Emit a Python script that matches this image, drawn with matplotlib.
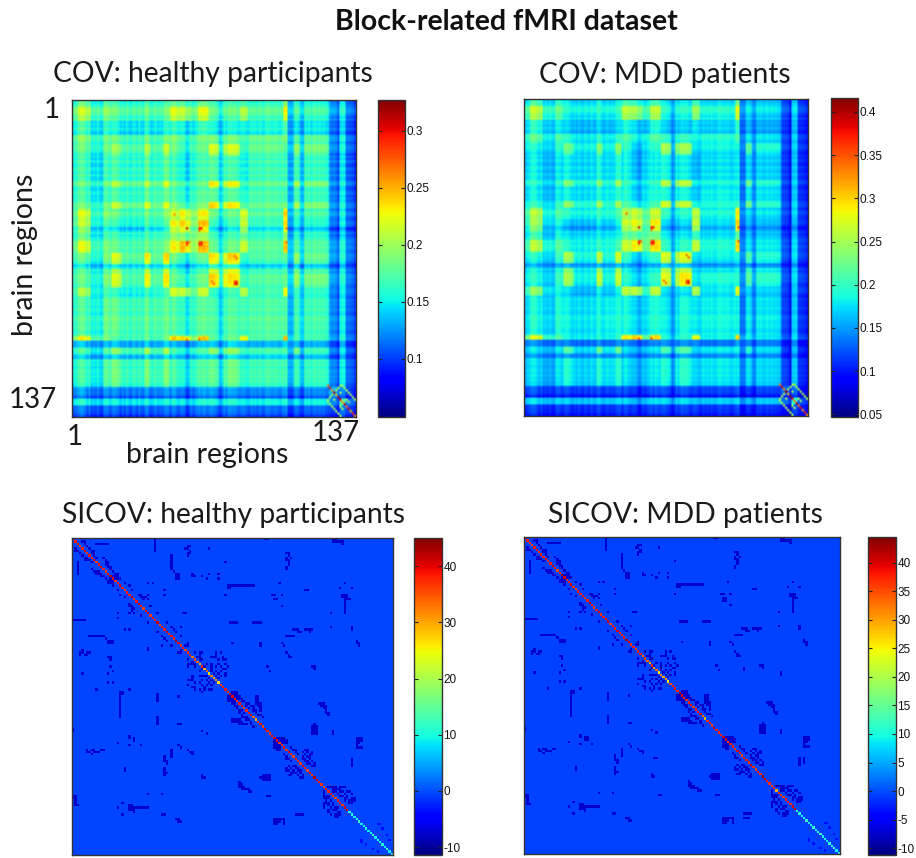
import numpy as np
import matplotlib
matplotlib.use('Agg')
import matplotlib.pyplot as plt

W, H = 916, 858
TITLE_FONT = ['Lato', 'DejaVu Sans']
TICK_FONT = ['Liberation Sans', 'DejaVu Sans']

# number of brain regions in each group of regions
group_sizes = [3, 6, 6, 4, 5, 11, 3, 6, 3, 5, 5, 4, 5, 5, 2, 2, 6, 4, 17, 2, 3, 3, 2, 12, 5, 3, 5]

# group-by-group covariance x 1000, upper triangle, healthy participants
cov_hc_groups = [
    [170, 185, 165, 180, 175, 170, 175, 170, 175, 185, 180, 170, 185, 170, 155, 170, 170, 175, 170, 195, 145, 165, 150, 165, 135, 155, 122],
    [205, 175, 190, 180, 175, 180, 175, 180, 215, 205, 185, 215, 175, 155, 175, 175, 200, 175, 220, 145, 170, 150, 170, 135, 155, 122],
    [160, 170, 165, 160, 165, 160, 165, 170, 160, 160, 170, 160, 145, 160, 160, 160, 165, 175, 140, 155, 140, 160, 130, 150, 118],
    [185, 185, 175, 185, 175, 185, 190, 170, 175, 185, 185, 155, 180, 185, 170, 185, 185, 145, 175, 150, 180, 135, 155, 122],
    [200, 180, 205, 180, 210, 185, 165, 175, 180, 215, 160, 205, 215, 165, 185, 170, 150, 195, 155, 190, 135, 155, 122],
    [175, 185, 175, 185, 175, 160, 170, 175, 180, 155, 175, 175, 160, 178, 170, 145, 175, 150, 175, 135, 155, 122],
    [205, 185, 215, 185, 170, 175, 180, 225, 160, 210, 222, 165, 182, 175, 150, 200, 155, 190, 135, 155, 122],
    [180, 185, 180, 165, 175, 180, 180, 155, 175, 178, 165, 180, 170, 145, 175, 150, 175, 135, 155, 122],
    [215, 190, 170, 175, 185, 230, 160, 215, 225, 170, 182, 180, 150, 200, 155, 190, 135, 155, 122],
    [215, 225, 200, 225, 180, 155, 175, 178, 215, 178, 235, 145, 170, 150, 175, 135, 155, 122],
    [235, 195, 240, 160, 140, 155, 162, 210, 165, 230, 135, 155, 140, 160, 125, 150, 118],
    [195, 200, 170, 150, 165, 170, 185, 172, 195, 140, 165, 145, 170, 130, 150, 122],
    [240, 175, 150, 170, 178, 210, 178, 235, 145, 170, 150, 175, 135, 155, 122],
    [225, 165, 215, 230, 160, 172, 170, 145, 190, 150, 180, 135, 155, 122],
    [155, 165, 165, 145, 150, 150, 130, 150, 125, 150, 120, 140, 115],
    [210, 222, 160, 172, 170, 145, 185, 150, 178, 135, 155, 122],
    [225, 165, 175, 175, 150, 192, 155, 185, 135, 155, 122],
    [205, 172, 222, 145, 165, 145, 165, 130, 150, 122],
    [180, 172, 145, 172, 155, 175, 135, 155, 122],
    [240, 150, 170, 150, 168, 135, 155, 122],
    [140, 145, 130, 145, 120, 140, 110],
    [185, 145, 170, 130, 150, 118],
    [130, 150, 120, 140, 115],
    [172, 135, 155, 122],
    [150, 130, 115],
    [170, 122],
    [115],
]

# same table for the MDD patients
cov_mdd_groups = [
    [190, 215, 185, 205, 190, 185, 195, 185, 190, 215, 205, 190, 210, 185, 165, 185, 185, 210, 185, 230, 155, 175, 160, 178, 140, 170, 125],
    [255, 200, 220, 190, 190, 195, 190, 195, 255, 245, 210, 255, 190, 165, 190, 190, 240, 195, 270, 155, 180, 160, 180, 140, 170, 125],
    [180, 190, 180, 175, 180, 175, 180, 195, 180, 175, 195, 175, 155, 175, 175, 185, 182, 200, 145, 170, 150, 168, 135, 165, 120],
    [215, 200, 190, 200, 190, 200, 215, 190, 195, 215, 200, 165, 195, 200, 190, 200, 210, 155, 185, 160, 185, 140, 170, 125],
    [230, 195, 235, 195, 240, 200, 170, 185, 195, 250, 170, 240, 250, 180, 192, 185, 155, 220, 165, 200, 140, 170, 125],
    [190, 200, 190, 200, 195, 170, 185, 190, 195, 165, 190, 190, 170, 190, 185, 150, 185, 160, 185, 140, 170, 125],
    [235, 200, 245, 205, 180, 190, 200, 255, 170, 245, 258, 185, 195, 190, 155, 225, 165, 200, 140, 170, 125],
    [195, 200, 200, 175, 190, 195, 195, 165, 190, 192, 175, 195, 185, 150, 190, 160, 190, 140, 170, 125],
    [245, 210, 185, 190, 205, 265, 170, 250, 260, 185, 195, 195, 155, 225, 165, 200, 140, 170, 125],
    [255, 265, 225, 265, 200, 165, 190, 195, 260, 195, 285, 155, 180, 160, 185, 140, 170, 125],
    [280, 225, 285, 170, 150, 165, 172, 260, 178, 295, 140, 165, 145, 168, 130, 155, 120],
    [225, 230, 185, 160, 180, 182, 205, 185, 220, 145, 175, 150, 178, 135, 165, 125],
    [290, 195, 160, 185, 195, 260, 195, 290, 150, 180, 155, 185, 140, 170, 125],
    [265, 175, 255, 270, 175, 185, 185, 155, 210, 160, 195, 140, 170, 125],
    [165, 175, 175, 155, 160, 160, 145, 160, 135, 160, 125, 150, 115],
    [245, 260, 175, 185, 185, 150, 205, 160, 190, 140, 170, 125],
    [285, 178, 195, 190, 155, 215, 165, 200, 140, 170, 125],
    [255, 185, 275, 155, 175, 150, 178, 135, 165, 125],
    [195, 185, 150, 188, 160, 190, 140, 170, 125],
    [290, 160, 185, 160, 180, 140, 170, 125],
    [145, 155, 135, 155, 125, 150, 110],
    [200, 155, 185, 135, 165, 120],
    [140, 160, 125, 150, 115],
    [185, 140, 170, 125],
    [160, 145, 115],
    [185, 125],
    [118],
]

# fine stripes of each single region x 1000
cov_hc_stripes = [
    -5, 0, 5, 10, 15, 12, 5, -5, 5, -5,
    0, -5, 5, -5, -10, 5, 8, 5, -5, 5,
    8, 5, 0, -10, 0, -8, 5, -5, -10, 3,
    0, -8, 5, -5, -5, 8, 10, -5, -8, 0,
    5, -5, 0, -3, 5, 10, 8, -5, 8, 10,
    0, -5, 8, 10, 3, -15, -5, 5, -5, 3,
    8, 10, 5, 12, 8, 3, 10, 12, 8, 5,
    -3, -5, 5, 8, 0, 10, 12, 8, 10, 5,
    0, 5, 8, 5, 0, -5, 5, 0, 3, -3,
    5, 0, -5, 5, 8, 5, 0, 3, 5, 0,
    -3, 5, 8, 10, -3, -5, -3, 5, 8, 0,
    -4, -6, 5, 0, 5, -5, 3, 5, 0, 5,
    0, 3, -3, -5, 0, -5, -3, -8, -20, 3,
    8, 5, 0, 0, -2, -5, -15,
]
cov_mdd_stripes = [
    -8, 0, 5, 12, 15, 12, 3, -5, 5, -3,
    3, -5, 5, -3, -8, 5, 8, 3, -5, 3,
    8, 5, -3, -10, 0, -8, 3, -5, -10, 3,
    -3, -8, 5, -3, -5, 8, 8, -5, -8, 0,
    3, -5, 0, -3, 5, 10, 8, -5, 8, 10,
    0, -3, 8, 10, 3, -12, -5, 3, -5, 3,
    8, 10, 3, 12, 8, 3, 10, 12, 8, 3,
    -3, -5, 3, 8, 0, 8, 12, 8, 10, 3,
    -3, 5, 8, 5, -3, -8, 3, -3, 0, -3,
    3, -3, -5, 3, 8, 3, 0, 3, 3, -3,
    -5, 3, 8, 12, -3, -5, -3, 3, 5, -3,
    -4, -6, 3, 0, 3, -5, 0, 3, -3, 3,
    -3, 0, -5, -5, -5, -10, -10, -15, -35, 5,
    10, 10, 0, 0, -3, -5, -15,
]
cov_hc_level = -10
cov_mdd_level = -12

# the few hottest cells of the covariance maps
hot_a = [56, 56, 56, 62, 62, 63, 57, 50, 79, 79, 80, 68, 69, 56, 62]
hot_b = [56, 62, 63, 62, 63, 63, 62, 50, 79, 80, 80, 79, 80, 104, 104]
hot_hc = [0.30, 0.29, 0.29, 0.28, 0.29, 0.29, 0.27, 0.26, 0.28, 0.29, 0.31, 0.27, 0.27, 0.27, 0.27]
hot_mdd = [0.39, 0.37, 0.37, 0.36, 0.37, 0.37, 0.34, 0.34, 0.35, 0.36, 0.38, 0.34, 0.34, 0.35, 0.35]

# bottom right corner of the covariance maps: diagonal values and thin lines around it
corner_regions = [124, 125, 126, 127, 128, 129, 130, 131, 132, 133, 134, 135, 136, 137]
corner_hc = [0.27, 0.30, 0.26, 0.31, 0.24, 0.32, 0.30, 0.26, 0.31, 0.27, 0.30, 0.25, 0.29, 0.26]
corner_mdd = [0.34, 0.39, 0.33, 0.40, 0.30, 0.41, 0.38, 0.33, 0.39, 0.34, 0.38, 0.32, 0.37, 0.33]
corner_link_a = [124, 125, 126, 127, 128, 129, 130, 124, 125, 126, 127, 130, 131]
corner_link_b = [131, 132, 133, 134, 135, 136, 137, 130, 129, 128, 130, 133, 134]
corner_link_hc = 0.20
corner_link_mdd = 0.25

# off-diagonal SICOV entries, {region: partner regions above the diagonal}
sicov_links = {
    1: [36, 83, 84, 112, 113],
    2: [5, 6, 36, 112, 113, 114, 115, 116],
    3: [6, 11, 12, 13, 14, 15, 16, 36, 116],
    4: [7, 36, 50, 51],
    5: [8, 36, 49, 50, 59],
    6: [9, 10, 36, 51],
    7: [9, 10, 50, 51, 92, 93],
    8: [10, 43, 50, 93],
    9: [11, 14, 43, 92, 94],
    10: [15, 43, 92, 93],
    11: [15, 16, 43, 66, 93],
    12: [15, 16, 43, 93],
    13: [16, 17, 43, 92],
    14: [17, 43, 92],
    15: [18, 44],
    16: [19, 20, 45, 46, 52, 59, 63],
    17: [18, 19, 20, 45, 46, 52, 53, 56],
    18: [19, 20, 21, 45, 46, 58, 63],
    20: [23, 33, 35, 89, 117],
    21: [25, 67, 68, 69, 70, 71, 72, 73, 74, 75, 76, 77, 78],
    22: [67, 68, 115, 120],
    23: [26, 40, 100, 101],
    25: [29, 30, 33, 40, 66, 86, 87, 90, 116, 117, 118],
    26: [30, 31, 32, 116, 117, 118],
    27: [31, 33, 87, 88, 118, 119],
    30: [34, 90, 117],
    33: [37, 48, 49, 111],
    37: [41, 68, 69, 70, 71, 78, 79, 80, 81],
    39: [43, 47, 111, 120],
    40: [44, 95, 96, 97, 100, 101, 102, 103],
    41: [45, 97, 98, 102],
    43: [47, 92, 93, 94, 95],
    46: [50, 69, 81, 90, 123],
    47: [49, 50, 81, 91, 123],
    50: [53, 55, 56, 62, 64, 92],
    51: [55, 62, 93],
    52: [54, 55, 60, 61, 62, 65, 93, 94],
    53: [55, 56, 63, 65, 66],
    55: [58, 60, 63, 66],
    56: [57, 60, 62, 64, 67, 84, 103, 104],
    57: [60, 65, 66, 104],
    58: [60, 62, 64, 85],
    59: [61, 63, 66],
    60: [62, 64, 66],
    61: [63],
    67: [69, 70, 71],
    68: [69, 70, 71],
    69: [70, 71, 72, 79, 80],
    70: [71, 72, 73, 79, 80],
    71: [73, 74, 79, 80],
    72: [75, 76, 79, 80, 81, 106, 107, 108],
    73: [75, 77, 78, 80, 81, 107, 108, 109],
    74: [76, 78, 81, 108, 109],
    75: [78, 79, 81, 109],
    76: [79, 109, 110],
    77: [80, 81, 110],
    78: [37, 82],
    82: [103, 104, 105],
    83: [103, 104, 105],
    84: [103, 104, 105, 112],
    85: [103, 104, 105, 112],
    87: [88, 89, 90, 91, 123, 124],
    88: [89, 90, 91, 92, 122, 123, 124],
    89: [90, 91, 92, 122, 123],
    91: [94, 122, 123, 124],
    92: [95, 96, 100, 101],
    93: [96, 99, 101, 103],
    94: [97, 100, 102, 103],
    95: [99, 101, 102],
    96: [99, 100, 102, 120],
    97: [100, 101, 103, 120],
    98: [101, 102, 104],
    99: [103, 104],
    104: [81, 82, 83, 84, 85],
    108: [110, 111, 112, 113, 115, 116, 117],
    109: [112, 113, 114, 115],
    110: [112, 113, 115, 116, 118, 119],
    111: [114, 117, 120],
    112: [115, 116, 118],
    113: [117, 118, 120, 121],
    114: [117, 119, 120, 121],
    115: [119, 120],
    117: [27, 28, 29, 30, 31, 32, 33],
    120: [39, 40, 97, 98, 99],
    122: [45, 46, 87, 88, 89, 90],
}
# weak entries in the last regions and a few only seen in the MDD panel
sicov_weak = {
    124: [132, 131],
    126: [133],
    129: [135],
    131: [136],
}
sicov_mdd_extra = {
    28: [87, 88],
    96: [57, 58],
    112: [59, 60],
    122: [96, 97, 98],
}
sicov_link_value = -7.5
sicov_weak_value = -3.5
sicov_background = -0.6

# diagonal of the SICOV maps
sicov_diag_hc = [
    40, 38, 39, 36, 38, 40, 37, 39, 38, 40,
    37, 39, 40, 38, 36, 39, 42, 40, 37, 39,
    40, 38, 36, 39, 38, 40, 37, 39, 41, 38,
    36, 39, 40, 37, 39, 38, 41, 36, 39, 38,
    40, 37, 39, 38, 42, 40, 37, 39, 36, 38,
    39, 33, 36, 34, 30, 38, 29, 35, 27, 33,
    30, 32, 27, 36, 38, 39, 37, 42, 40, 38,
    37, 39, 40, 36, 38, 39, 40, 34, 30, 37,
    39, 36, 40, 38, 37, 39, 41, 40, 36, 38,
    39, 37, 40, 38, 36, 39, 38, 37, 40, 38,
    36, 39, 37, 42, 40, 38, 37, 36, 39, 38,
    40, 37, 36, 38, 39, 37, 40, 41, 10, 11,
    9, 10, 12, 9, 10, 11, 9, 10, 12, 9,
    10, 9, 11, 10, 12, 9, 11,
]
sicov_diag_mdd = [
    39, 38, 37, 36, 38, 39, 37, 38, 38, 39,
    37, 38, 40, 38, 36, 38, 42, 40, 37, 38,
    40, 37, 36, 38, 38, 39, 37, 38, 41, 38,
    36, 38, 40, 37, 38, 38, 41, 36, 38, 38,
    40, 37, 38, 38, 42, 40, 37, 38, 36, 38,
    38, 33, 36, 33, 30, 37, 29, 34, 26, 32,
    29, 31, 26, 35, 38, 38, 37, 42, 40, 37,
    37, 38, 39, 36, 38, 38, 39, 33, 29, 37,
    38, 36, 40, 38, 37, 38, 41, 40, 36, 38,
    38, 37, 40, 38, 36, 38, 38, 37, 40, 37,
    36, 38, 37, 42, 40, 38, 37, 36, 38, 30,
    38, 37, 36, 38, 38, 37, 40, 41, 11, 10,
    9, 10, 12, 9, 10, 11, 9, 10, 12, 9,
    10, 9, 11, 10, 12, 9, 11,
]

cov_hc_ticks = [0.1, 0.15, 0.2, 0.25, 0.3]
cov_mdd_ticks = [0.05, 0.1, 0.15, 0.2, 0.25, 0.3, 0.35, 0.4]
sicov_hc_ticks = [-10, 0, 10, 20, 30, 40]
sicov_mdd_ticks = [-10, -5, 0, 5, 10, 15, 20, 25, 30, 35, 40]


def px_axes(fig, left, top, right, bottom):
    # axes from pixel positions of the reference, y counted from the top
    return fig.add_axes([left / W, 1 - bottom / H, (right - left) / W, (bottom - top) / H])


def build_cov(table, stripes, level):
    # expand the group table to all regions and add the fine stripes
    n = len(group_sizes)
    blocks = np.zeros((n, n))
    for i, row in enumerate(table):
        blocks[i, i:] = row
        blocks[i:, i] = row
    group_of = np.repeat(np.arange(n), group_sizes)
    stripes = np.array(stripes)
    return (blocks[np.ix_(group_of, group_of)] + stripes[:, None] + stripes[None, :] + level) / 1000


def add_cells(cov, a_list, b_list, values):
    for a, b, value in zip(a_list, b_list, values):
        cov[a - 1, b - 1] = value
        cov[b - 1, a - 1] = value
    return cov


def add_corner(cov, diag, link):
    add_cells(cov, corner_regions, corner_regions, diag)
    add_cells(cov, corner_link_a, corner_link_b, [link] * len(corner_link_a))
    return cov


def build_sicov(diag, extra=None):
    m = np.full((137, 137), sicov_background)
    for links, value in [(sicov_links, sicov_link_value), (sicov_weak, sicov_weak_value), (extra or {}, sicov_link_value)]:
        for a, partners in links.items():
            for b in partners:
                m[a - 1, b - 1] = value
                m[b - 1, a - 1] = value
    m[np.arange(137), np.arange(137)] = diag
    return m


def draw_panel(fig, box, cbox, data, vmin, vmax, ticks, title, title_xy, interp):
    ax = px_axes(fig, *box)
    im = ax.imshow(data, cmap='jet', vmin=vmin, vmax=vmax, aspect='auto',
                   interpolation=interp, interpolation_stage='rgba',
                   extent=(0.5, 137.5, 137.5, 0.5))
    ax.set_xticks([])
    ax.set_yticks([])
    for s in ax.spines.values():
        s.set_color('#333333')
        s.set_linewidth(1.0)

    cax = px_axes(fig, *cbox)
    cb = fig.colorbar(im, cax=cax, ticks=ticks)
    cb.ax.set_yticklabels([f'{t:g}' for t in ticks], family=TICK_FONT, fontsize=8.5, color='#111111')
    cb.ax.tick_params(axis='y', direction='in', left=True, right=True, length=3, width=0.8,
                      color='#222222', pad=1)
    cb.outline.set_edgecolor('#333333')
    cb.outline.set_linewidth(1.0)

    fig.text(title_xy[0] / W, 1 - title_xy[1] / H, title, family=TITLE_FONT, fontsize=20.3,
             color='#1a1a1a', ha='center', va='center')
    return ax


cov_hc = add_cells(build_cov(cov_hc_groups, cov_hc_stripes, cov_hc_level), hot_a, hot_b, hot_hc)
cov_hc = add_corner(cov_hc, corner_hc, corner_link_hc)
cov_mdd = add_cells(build_cov(cov_mdd_groups, cov_mdd_stripes, cov_mdd_level), hot_a, hot_b, hot_mdd)
cov_mdd = add_corner(cov_mdd, corner_mdd, corner_link_mdd)
sicov_hc = build_sicov(sicov_diag_hc)
sicov_mdd = build_sicov(sicov_diag_mdd, sicov_mdd_extra)

fig = plt.figure(figsize=(W / 100, H / 100), dpi=100)

draw_panel(fig, (72, 100, 356, 417), (378, 100, 405, 417), cov_hc, 0.049, 0.327, cov_hc_ticks,
           'COV: healthy participants', (213, 74), 'bilinear')
draw_panel(fig, (524, 99, 808, 416), (831, 98, 858, 417), cov_mdd, 0.047, 0.416, cov_mdd_ticks,
           'COV: MDD patients', (665, 75), 'bilinear')
draw_panel(fig, (72, 538, 393, 855), (414, 538, 442, 855), sicov_hc, -11.4, 45, sicov_hc_ticks,
           'SICOV: healthy participants', (233, 515), 'nearest')
draw_panel(fig, (524, 537, 840, 854), (868, 537, 896, 855), sicov_mdd, -11.2, 44.5, sicov_mdd_ticks,
           'SICOV: MDD patients', (685, 515), 'nearest')

fig.text(506 / W, 1 - 22 / H, 'Block-related fMRI dataset', family=TITLE_FONT, fontsize=20.5,
         fontweight='bold', color='#111111', ha='center', va='center')

# axis annotation of the first panel only
for x, y, s in [(52, 110, '1'), (33, 400, '137'), (75, 437, '1'), (336, 433, '137')]:
    fig.text(x / W, 1 - y / H, s, family=TITLE_FONT, fontsize=20, color='#1a1a1a', ha='center', va='center')
fig.text(207 / W, 1 - 455 / H, 'brain regions', family=TITLE_FONT, fontsize=20.5, color='#1a1a1a',
         ha='center', va='center')
fig.text(25 / W, 1 - 255 / H, 'brain regions', family=TITLE_FONT, fontsize=20.5, color='#1a1a1a',
         rotation=90, ha='center', va='center')

fig.savefig('out.png', dpi=100)
